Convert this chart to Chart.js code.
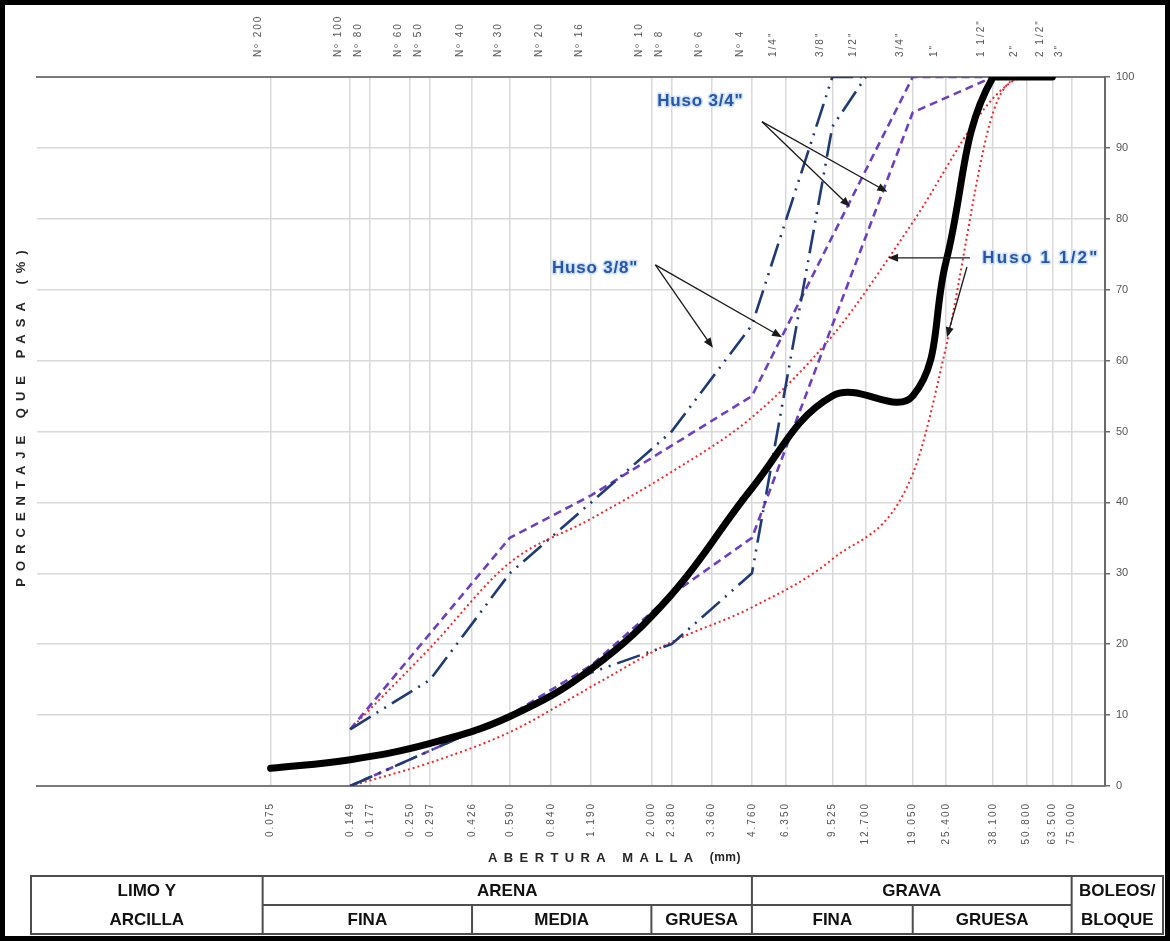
<!DOCTYPE html>
<html>
<head>
<meta charset="utf-8">
<script src="https://cdn.jsdelivr.net/npm/chart.js@4/dist/chart.umd.min.js"></script>
<style>
  html, body { margin: 0; padding: 0; background: #ffffff; }
  #wrap { width: 1170px; height: 941px; position: relative; }
  canvas { display: block; }
</style>
</head>
<body>
<div id="wrap"><canvas id="curva" width="1170" height="941"></canvas></div>
<script>
// Sieve openings (mm) and their designations
const sieveMm = [0.075, 0.149, 0.177, 0.250, 0.297, 0.426, 0.590, 0.840, 1.190, 2.000, 2.380, 3.360,
                 4.760, 6.350, 9.525, 12.700, 19.050, 25.400, 38.100, 50.800, 63.500, 75.000];
const sieveNames = ['Nº 200', 'Nº 100', 'Nº 80', 'Nº 60', 'Nº 50', 'Nº 40', 'Nº 30', 'Nº 20', 'Nº 16',
                    'Nº 10', 'Nº 8', 'Nº 6', 'Nº 4', '1/4"', '3/8"', '1/2"', '3/4"', '1"', '1 1/2"',
                    '2"', '2 1/2"', '3"'];
const openingLabels = ['0.075', '0.149', '0.177', '0.250', '0.297', '0.426', '0.590', '0.840', '1.190',
                       '2.000', '2.380', '3.360', '4.760', '6.350', '9.525', '12.700', '19.050',
                       '25.400', '38.100', '50.800', '63.500', '75.000'];
const percentTicks = [0, 10, 20, 30, 40, 50, 60, 70, 80, 90, 100];

// Gradation of the sample (solid black curve)
const sampleMm   = [0.075, 0.149, 0.297, 0.590, 1.190, 2.380, 4.760, 9.525, 19.050, 25.400, 38.100, 63.500];
const samplePass = [2.5, 3.7, 6.0, 9.8, 16.5, 27.0, 42.0, 55.0, 55.0, 74.0, 100, 100];

// Huso 3/8" limits
const h38UpperMm   = [0.149, 0.297, 0.590, 1.190, 2.380, 4.760, 9.525, 12.700];
const h38UpperPass = [8, 15, 30, 40, 50, 65, 100, 100];
const h38LowerMm   = [0.149, 0.297, 0.590, 1.190, 2.380, 4.760, 9.525, 12.700];
const h38LowerPass = [0, 5, 10, 16, 20, 30, 93, 100];

// Huso 3/4" limits
const h34UpperMm   = [0.149, 0.590, 1.190, 4.760, 19.050, 38.100];
const h34UpperPass = [8, 35, 41, 55, 100, 100];
const h34LowerMm   = [0.149, 0.297, 0.590, 1.190, 2.380, 4.760, 19.050, 38.100];
const h34LowerPass = [0, 5, 10, 17, 27, 35, 95, 100];

// Huso 1 1/2" limits
const h112UpperMm   = [0.149, 0.297, 0.590, 1.190, 2.380, 4.760, 9.525, 19.050, 38.100, 50.800, 63.500];
const h112UpperPass = [8, 19.5, 31.5, 37.7, 44.3, 52, 63.5, 79.5, 97, 100, 100];
const h112LowerMm   = [0.149, 0.297, 0.590, 1.190, 2.380, 4.760, 9.525, 19.050, 25.400, 38.100, 50.800, 63.500];
const h112LowerPass = [0, 3.3, 7.6, 14, 20.3, 25.2, 32, 44, 62, 95, 100, 100];

// Soil classes under the axis (edges in mm)
const classEdgesMm = [0.07, 0.426, 2.0, 4.76, 19.05, 75.0];

// Callouts: label anchor, arrow start and arrow tips in (mm, %)
const calloutTexts = ['Huso 3/4"', 'Huso 3/8"', 'Huso 1 1/2"'];
const calloutLabelAt = [[3.05, 96.6], [1.23, 73.0], [57.5, 74.4]];
const calloutArrowFrom = [[[5.19, 93.7], [5.19, 93.7]], [[2.07, 73.5], [2.07, 73.5]], [[31.2, 74.5], [30.4, 73.2]]];
const calloutArrowTo = [[[11.1, 81.7], [15.3, 83.8]], [[3.40, 61.8], [6.17, 63.3]], [[15.4, 74.5], [25.6, 63.3]]];

const pts = (xs, ys) => xs.map((x, i) => ({ x: x, y: ys[i] }));

const NAVY = '#1f3a75';
const PURPLE = '#6c3fc2';
const RED = '#f3262a';
const FONT = '"Liberation Sans", Arial, sans-serif';

function useSieveTicks(scale) {
  scale.ticks = sieveMm.map(v => ({ value: v }));
}

// wider tracking for the sieve labels on both horizontal axes
const trackedLabels = {
  id: 'trackedLabels',
  afterLayout(chart) {
    ['x', 'xTop'].forEach(id => {
      const s = chart.scales[id];
      if (s && !s._tracked) {
        const base = s.drawLabels.bind(s);
        s.drawLabels = function (area) {
          const c = this.ctx;
          c.save();
          c.letterSpacing = '2px';
          base(area);
          c.restore();
        };
        s._tracked = true;
      }
    });
  }
};

// outer frame, axis titles and the soil-class table
const decorPlugin = {
  id: 'decor',
  beforeDraw(chart) {
    const c = chart.ctx;
    c.save();
    c.fillStyle = '#ffffff';
    c.fillRect(0, 0, chart.width, chart.height);
    c.restore();
  },
  afterDraw(chart) {
    const c = chart.ctx;
    const xs = chart.scales.x;
    c.save();

    // Y title
    c.save();
    c.translate(21, 418);
    c.rotate(-Math.PI / 2);
    c.font = 'bold 13px ' + FONT;
    c.letterSpacing = '7px';
    c.fillStyle = '#262626';
    c.textAlign = 'center';
    c.textBaseline = 'middle';
    c.fillText('PORCENTAJE QUE PASA (%)', 3, 0);
    c.restore();

    // X title
    c.save();
    c.font = 'bold 13px ' + FONT;
    c.letterSpacing = '6.4px';
    c.fillStyle = '#262626';
    c.textBaseline = 'middle';
    const t1 = 'ABERTURA MALLA ';
    const w1 = c.measureText(t1).width;
    c.fillText(t1, 488, 858);
    c.letterSpacing = '0.5px';
    c.font = 'bold 12px ' + FONT;
    c.fillText('(mm)', 488 + w1, 858);
    c.restore();

    // Table of soil classes
    const tl = 31, tr = 1163, ty0 = 876, ty1 = 905, ty2 = 934;
    const ex = classEdgesMm.map(v => xs.getPixelForValue(v));
    c.strokeStyle = '#4d4d4d';
    c.lineWidth = 2;
    c.strokeRect(tl, ty0, tr - tl, ty2 - ty0);
    c.beginPath();
    c.moveTo(ex[0], ty0); c.lineTo(ex[0], ty2);
    c.moveTo(ex[3], ty0); c.lineTo(ex[3], ty2);
    c.moveTo(ex[5], ty0); c.lineTo(ex[5], ty2);
    c.moveTo(ex[0], ty1); c.lineTo(ex[5], ty1);
    c.moveTo(ex[1], ty1); c.lineTo(ex[1], ty2);
    c.moveTo(ex[2], ty1); c.lineTo(ex[2], ty2);
    c.moveTo(ex[4], ty1); c.lineTo(ex[4], ty2);
    c.stroke();

    const cell = (txt, cx, cy) => {
      c.save();
      c.font = 'bold 17px ' + FONT;
      c.fillStyle = '#111111';
      c.textAlign = 'center';
      c.textBaseline = 'middle';
      c.fillText(txt, cx, cy);
      c.restore();
    };
    const rowA = (ty0 + ty1) / 2 + 1, rowB = (ty1 + ty2) / 2 + 1;
    cell('LIMO Y', (tl + ex[0]) / 2, rowA);
    cell('ARCILLA', (tl + ex[0]) / 2, rowB);
    cell('ARENA', (ex[0] + ex[3]) / 2, rowA);
    cell('GRAVA', (ex[3] + ex[5]) / 2, rowA);
    cell('BOLEOS/', (ex[5] + tr) / 2, rowA);
    cell('BLOQUE', (ex[5] + tr) / 2, rowB);
    cell('FINA', (ex[0] + ex[1]) / 2, rowB);
    cell('MEDIA', (ex[1] + ex[2]) / 2, rowB);
    cell('GRUESA', (ex[2] + ex[3]) / 2, rowB);
    cell('FINA', (ex[3] + ex[4]) / 2, rowB);
    cell('GRUESA', (ex[4] + ex[5]) / 2, rowB);

    // Outer black frame
    c.strokeStyle = '#000000';
    c.lineWidth = 5;
    c.strokeRect(2.5, 2.5, chart.width - 5, chart.height - 5);
    c.restore();
  }
};

// Callout labels with arrows
const calloutPlugin = {
  id: 'callouts',
  afterDatasetsDraw(chart) {
    const c = chart.ctx;
    const xs = chart.scales.x, ys = chart.scales.y;
    const P = p => [xs.getPixelForValue(p[0]), ys.getPixelForValue(p[1])];
    c.save();
    calloutTexts.forEach((txt, k) => {
      calloutArrowFrom[k].forEach((from, j) => {
        const a = P(from), b = P(calloutArrowTo[k][j]);
        const ang = Math.atan2(b[1] - a[1], b[0] - a[0]);
        const hl = 10, hw = 4;
        c.strokeStyle = '#1a1a1a';
        c.lineWidth = 1.3;
        c.beginPath();
        c.moveTo(a[0], a[1]);
        c.lineTo(b[0] - Math.cos(ang) * hl * 0.8, b[1] - Math.sin(ang) * hl * 0.8);
        c.stroke();
        c.fillStyle = '#1a1a1a';
        c.beginPath();
        c.moveTo(b[0], b[1]);
        c.lineTo(b[0] - Math.cos(ang) * hl + Math.sin(ang) * hw, b[1] - Math.sin(ang) * hl - Math.cos(ang) * hw);
        c.lineTo(b[0] - Math.cos(ang) * hl - Math.sin(ang) * hw, b[1] - Math.sin(ang) * hl + Math.cos(ang) * hw);
        c.closePath();
        c.fill();
      });
      const p = P(calloutLabelAt[k]);
      c.font = 'bold 17px ' + FONT;
      c.letterSpacing = k === 2 ? '2.2px' : '0.8px';
      c.textAlign = 'center';
      c.textBaseline = 'middle';
      c.lineJoin = 'round';
      c.strokeStyle = '#cfe0f7';
      c.lineWidth = 3;
      c.strokeText(txt, p[0], p[1]);
      c.fillStyle = '#2556a8';
      c.fillText(txt, p[0], p[1]);
    });
    c.restore();
  }
};

const lineSet = (label, xs, ys, color, width, dash, extra) => Object.assign({
  label: label,
  data: pts(xs, ys),
  borderColor: color,
  backgroundColor: color,
  borderWidth: width,
  borderDash: dash,
  pointRadius: 0,
  fill: false,
  tension: 0
}, extra || {});

new Chart(document.getElementById('curva'), {
  type: 'line',
  data: {
    datasets: [
      lineSet('Muestra', sampleMm, samplePass, '#000000', 7, [], { tension: 0.4, order: 0, borderCapStyle: 'round' }),
      lineSet('Huso 3/8" sup.', h38UpperMm, h38UpperPass, NAVY, 2.6, [24, 7, 2, 7, 2, 7], { order: 2 }),
      lineSet('Huso 3/8" inf.', h38LowerMm, h38LowerPass, NAVY, 2.6, [24, 7, 2, 7, 2, 7], { order: 2 }),
      lineSet('Huso 3/4" sup.', h34UpperMm, h34UpperPass, PURPLE, 2.6, [8, 5], { order: 3 }),
      lineSet('Huso 3/4" inf.', h34LowerMm, h34LowerPass, PURPLE, 2.6, [8, 5], { order: 3 }),
      lineSet('Huso 1 1/2" sup.', h112UpperMm, h112UpperPass, RED, 2, [2, 3], { order: 4, cubicInterpolationMode: 'monotone' }),
      lineSet('Huso 1 1/2" inf.', h112LowerMm, h112LowerPass, RED, 2, [2, 3], { order: 4, cubicInterpolationMode: 'monotone' })
    ]
  },
  options: {
    responsive: false,
    animation: false,
    devicePixelRatio: 1,
    layout: { padding: { left: 37, right: 0, top: 0, bottom: 0 } },
    plugins: { legend: { display: false }, tooltip: { enabled: false } },
    scales: {
      x: {
        type: 'logarithmic',
        position: 'bottom',
        min: 0.01,
        max: 100,
        afterBuildTicks: useSieveTicks,
        afterFit: s => { s.height = 155; },
        grid: { color: '#d9d9d9', lineWidth: 1.5, drawTicks: false },
        border: { display: true, color: '#7a7a7a', width: 2 },
        ticks: {
          autoSkip: false, minRotation: 90, maxRotation: 90, padding: 16,
          color: '#555555', font: { size: 10, family: FONT },
          callback: (v, i) => openingLabels[i]
        }
      },
      xTop: {
        type: 'logarithmic',
        position: 'top',
        min: 0.01,
        max: 100,
        afterBuildTicks: useSieveTicks,
        afterFit: s => { s.height = 77; },
        grid: { display: false, drawTicks: false },
        border: { display: true, color: '#7a7a7a', width: 2 },
        ticks: {
          autoSkip: false, minRotation: 90, maxRotation: 90, padding: 20,
          color: '#555555', font: { size: 10, family: FONT },
          callback: (v, i) => sieveNames[i]
        }
      },
      y: {
        type: 'linear',
        position: 'right',
        min: 0,
        max: 100,
        afterBuildTicks: s => { s.ticks = percentTicks.map(v => ({ value: v })); },
        afterFit: s => { s.width = 65; },
        grid: { color: '#d9d9d9', lineWidth: 1.5, tickLength: 5, tickColor: '#6a6a6a' },
        border: { display: true, color: '#6a6a6a', width: 2 },
        ticks: {
          padding: 6, color: '#555555',
          font: { size: 11, family: FONT }
        }
      }
    }
  },
  plugins: [trackedLabels, decorPlugin, calloutPlugin]
});
</script>
</body>
</html>
